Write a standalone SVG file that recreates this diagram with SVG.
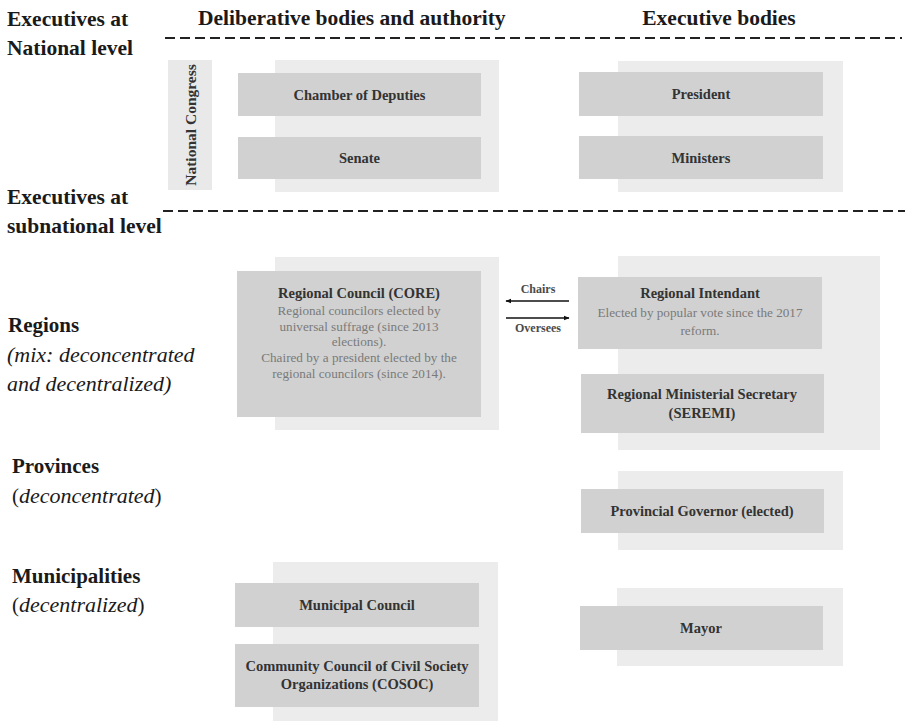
<svg xmlns="http://www.w3.org/2000/svg" width="905" height="723" viewBox="0 0 905 723">
<style>
.bg{fill:#ffffff}
.panel{fill:#ececec}
.box{fill:#d1d1d1}
text{font-family:'Liberation Serif','Times New Roman',serif}
.hdr{font-weight:bold;font-size:21.5px;fill:#1a1a1a}
.lvl{font-size:21px;fill:#1a1a1a}
.b{font-weight:bold}
.it{font-style:italic;font-size:22px}
.t{font-weight:bold;font-size:14.5px;fill:#333333;text-anchor:middle}
.d{font-size:13.2px;fill:#7a7a7a;text-anchor:middle}
.lab{font-weight:bold;font-size:12px;fill:#4a4a4a;text-anchor:middle}
.dash{stroke:#222222;stroke-width:2;stroke-dasharray:10 5;fill:none}
.arr{stroke:#111111;stroke-width:1.5;fill:none}
</style>
<defs>
<marker id="ah" viewBox="0 0 10 10" refX="9" refY="5" markerWidth="6" markerHeight="6" orient="auto-start-reverse" markerUnits="userSpaceOnUse">
<path d="M0,1 L10,5 L0,9 z" fill="#111111"/>
</marker>
</defs>
<rect class="bg" x="0" y="0" width="905" height="723"/>

<g id="labels">
<text class="hdr" x="7" y="26">Executives at</text>
<text class="hdr" x="7" y="55">National level</text>
<text class="hdr" x="198" y="25">Deliberative bodies and authority</text>
<text class="hdr" x="719" y="25" text-anchor="middle">Executive bodies</text>
<text class="hdr" x="7" y="204">Executives at</text>
<text class="hdr" x="7" y="233">subnational level</text>
<text class="lvl b" x="8" y="332">Regions</text>
<text class="lvl it" x="7" y="362">(mix: deconcentrated</text>
<text class="lvl it" x="7" y="391">and decentralized)</text>
<text class="lvl b" x="12" y="473">Provinces</text>
<text class="lvl" x="12" y="503">(<tspan class="it">deconcentrated</tspan>)</text>
<text class="lvl b" x="12" y="583">Municipalities</text>
<text class="lvl" x="12" y="612">(<tspan class="it">decentralized</tspan>)</text>
</g>

<g id="dividers">
<line class="dash" x1="165" y1="38" x2="902" y2="38"/>
<line class="dash" x1="163" y1="211" x2="905" y2="211"/>
</g>

<g id="national-congress">
<rect x="168" y="60" width="44" height="130" fill="#e9e9e9"/>
<text class="t" transform="translate(196,125) rotate(-90)" style="font-size:15.5px">National Congress</text>
</g>

<g id="national-deliberative">
<rect class="panel" x="275" y="60" width="224" height="132"/>
<g id="chamber-of-deputies">
<rect class="box" x="238" y="73" width="243" height="43"/>
<text class="t" x="359.5" y="99.5">Chamber of Deputies</text>
</g>
<g id="senate">
<rect class="box" x="238" y="137" width="243" height="42"/>
<text class="t" x="359.5" y="163">Senate</text>
</g>
</g>

<g id="national-executive">
<rect class="panel" x="618" y="61" width="225" height="131"/>
<g id="president">
<rect class="box" x="579" y="72" width="244" height="44"/>
<text class="t" x="701" y="99">President</text>
</g>
<g id="ministers">
<rect class="box" x="579" y="136" width="244" height="43"/>
<text class="t" x="701" y="163">Ministers</text>
</g>
</g>

<g id="regional-council">
<rect class="panel" x="275" y="257" width="224" height="173"/>
<rect class="box" x="237" y="271" width="244" height="146"/>
<text class="t" x="359" y="298">Regional Council (CORE)</text>
<text class="d" x="359" y="314.5">Regional councilors elected by</text>
<text class="d" x="359" y="330.5">universal suffrage (since 2013</text>
<text class="d" x="359" y="346">elections).</text>
<text class="d" x="359" y="362">Chaired by a president elected by the</text>
<text class="d" x="359" y="378">regional councilors (since 2014).</text>
</g>

<g id="regional-executive">
<rect class="panel" x="618" y="256" width="262" height="194"/>
<g id="regional-intendant">
<rect class="box" x="578" y="277" width="244" height="72"/>
<text class="t" x="700" y="298">Regional Intendant</text>
<text class="d" x="700" y="317">Elected by popular vote since the 2017</text>
<text class="d" x="700" y="335">reform.</text>
</g>
<g id="seremi">
<rect class="box" x="581" y="374" width="243" height="59"/>
<text class="t" x="702" y="399">Regional Ministerial Secretary</text>
<text class="t" x="702" y="418">(SEREMI)</text>
</g>
</g>

<g id="provincial-governor">
<rect class="panel" x="618" y="471" width="225" height="79"/>
<rect class="box" x="581" y="489" width="243" height="44"/>
<text class="t" x="702" y="516">Provincial Governor (elected)</text>
</g>

<g id="mayor">
<rect class="panel" x="617" y="588" width="226" height="78"/>
<rect class="box" x="580" y="606" width="243" height="44"/>
<text class="t" x="701" y="633">Mayor</text>
</g>

<g id="municipal-deliberative">
<rect class="panel" x="273" y="562" width="225" height="159"/>
<g id="municipal-council">
<rect class="box" x="235" y="583" width="244" height="44"/>
<text class="t" x="357" y="610">Municipal Council</text>
</g>
<g id="cosoc">
<rect class="box" x="235" y="644" width="244" height="63"/>
<text class="t" x="357" y="671">Community Council of Civil Society</text>
<text class="t" x="357" y="689">Organizations (COSOC)</text>
</g>
</g>

<g id="connectors">
<line class="arr" x1="569" y1="301" x2="506" y2="301" marker-end="url(#ah)"/>
<text class="lab" x="538" y="293">Chairs</text>
<line class="arr" x1="506" y1="318" x2="569" y2="318" marker-end="url(#ah)"/>
<text class="lab" x="538" y="332">Oversees</text>
</g>
</svg>
